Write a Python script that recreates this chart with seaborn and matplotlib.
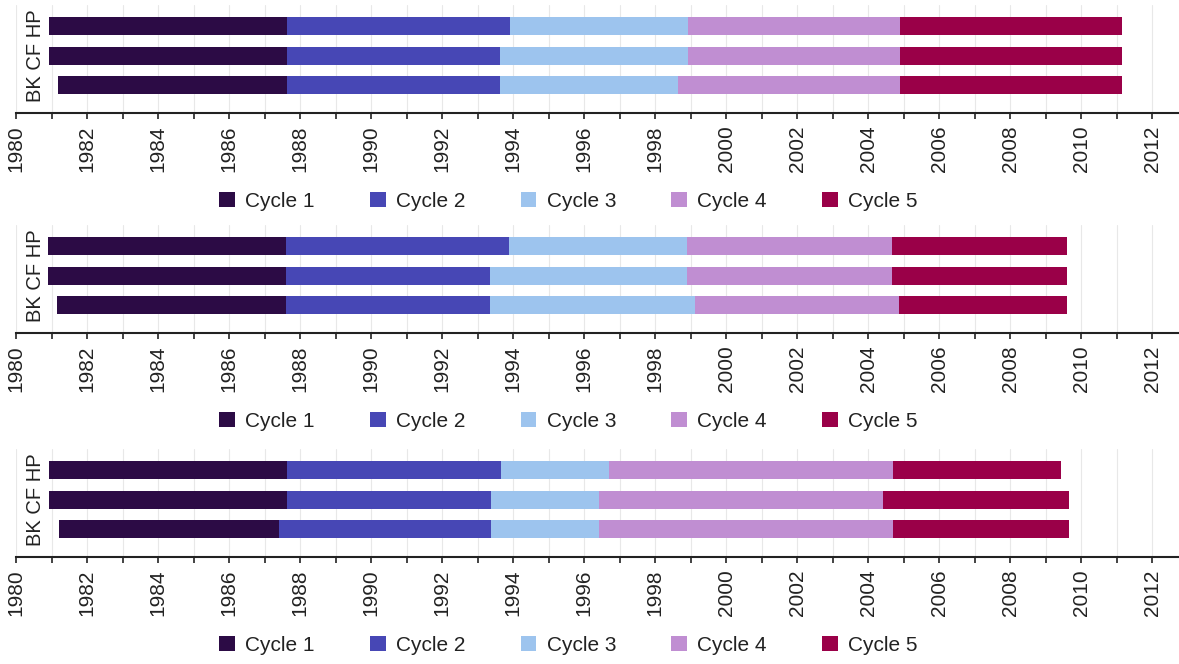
import numpy as np
import pandas as pd
import matplotlib
matplotlib.use("Agg")
import matplotlib.pyplot as plt
from matplotlib.patches import Patch
from matplotlib.ticker import MultipleLocator
import seaborn as sns

# ------------------ Data ------------------
sites = ["HP", "CF", "BK"]
cycles = ["Cycle 1", "Cycle 2", "Cycle 3", "Cycle 4", "Cycle 5"]
cycle_colors = ["#2c0b45", "#4747b5", "#9dc4ee", "#c08ed2", "#9a0048"]

# boundaries per site (HP, CF, BK): start, end of cycle 1..5
panel1_bounds = [
    [1980.92, 1987.62, 1993.92, 1998.94, 2004.90, 2011.15],
    [1980.92, 1987.62, 1993.63, 1998.94, 2004.90, 2011.15],
    [1981.17, 1987.62, 1993.63, 1998.66, 2004.90, 2011.15],
]
panel2_bounds = [
    [1980.90, 1987.60, 1993.90, 1998.91, 2004.67, 2009.60],
    [1980.90, 1987.60, 1993.36, 1998.91, 2004.67, 2009.60],
    [1981.16, 1987.60, 1993.36, 1999.13, 2004.87, 2009.60],
]
panel3_bounds = [
    [1980.94, 1987.64, 1993.67, 1996.69, 2004.71, 2009.44],
    [1980.93, 1987.64, 1993.38, 1996.41, 2004.43, 2009.65],
    [1981.20, 1987.42, 1993.38, 1996.41, 2004.71, 2009.65],
]
panels = [panel1_bounds, panel2_bounds, panel3_bounds]

# ------------------ Long table ------------------
rows = []
for p, bounds in enumerate(panels):
    for s, site in enumerate(sites):
        b = bounds[s]
        for c, cyc in enumerate(cycles):
            rows.append({"panel": p, "site": site, "cycle": cyc,
                         "left": b[c], "width": b[c + 1] - b[c]})
df = pd.DataFrame(rows)

# ------------------ Figure ------------------
sns.set_theme(style="white")
plt.rcParams["font.family"] = ["Liberation Sans", "DejaVu Sans"]

W, H = 1179, 664
fig = plt.figure(figsize=(W / 100, H / 100), dpi=100)

axis_y = [113, 333, 557]   # pixel row of each x axis line
ax_h = 108

for p in range(3):
    bottom = (H - axis_y[p]) / H
    ax = fig.add_axes([16 / W, bottom, (W - 16) / W, ax_h / H])
    sub = df[df["panel"] == p]
    for c, cyc in enumerate(cycles):
        part = sub[sub["cycle"] == cyc].set_index("site").loc[sites].reset_index()
        sns.barplot(data=part, x="width", y="site", order=sites, orient="h",
                    left=part["left"].to_numpy(), color=cycle_colors[c],
                    width=0.62, errorbar=None, linewidth=0, saturation=1, ax=ax)

    ax.set_xlim(1980, 2012.76)
    ax.set_ylim(2.98, -0.74)
    ax.xaxis.set_major_locator(MultipleLocator(2))
    ax.xaxis.set_minor_locator(MultipleLocator(1))
    ax.grid(axis="x", which="both", color="#e8e8e8", lw=0.8)
    ax.set_axisbelow(True)
    ax.tick_params(axis="x", which="both", direction="out", length=4, width=1.2,
                   color="#222222", bottom=True, pad=5)
    ax.tick_params(axis="x", which="major", labelsize=15, labelcolor="#222222",
                   labelrotation=90)
    ax.set_yticks([])
    ax.set_xlabel("")
    ax.set_ylabel("")
    for side in ["top", "right", "left"]:
        ax.spines[side].set_visible(False)
    ax.spines["bottom"].set_color("#222222")
    ax.spines["bottom"].set_linewidth(1.5)

    ax.text(1980.55, 1.0, "BK CF HP", rotation=90, ha="center", va="center",
            fontsize=14.5, color="#222222")

    handles = [Patch(facecolor=col, edgecolor="none") for col in cycle_colors]
    ax.legend(handles, cycles, loc="center", bbox_to_anchor=(0.475, -0.82),
              ncol=5, frameon=False, fontsize=15, handlelength=0.75,
              handleheight=0.75, handletextpad=0.5, columnspacing=2.65,
              labelcolor="#222222")

fig.savefig("out.png", dpi=100)
